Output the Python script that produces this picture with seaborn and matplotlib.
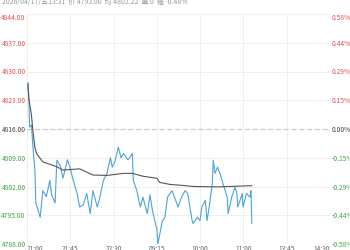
import matplotlib
matplotlib.use("Agg")
import matplotlib.pyplot as plt
import seaborn as sns
import pandas as pd
import numpy as np

# ---- data ----
prev_close = 4816.0
price_ticks = [4788, 4795, 4802, 4809, 4816, 4823, 4830, 4837, 4844]
pct_labels = ["-0.58%", "-0.44%", "-0.29%", "-0.15%", "0.00%", "0.15%", "0.29%", "0.44%", "0.58%"]
time_labels = ["21:00", "21:45", "22:30", "09:15", "10:00", "11:00", "13:45", "14:30"]
total_minutes = 345

price_min = [1, 2, 3, 5, 7, 9, 10, 13, 15, 18, 22, 26, 28, 32, 34, 38, 41, 46, 49, 52,
             57, 60, 64, 68, 72, 75, 80, 83, 87, 91, 95, 97, 100, 104, 107, 110, 115, 120,
             121, 125, 129, 132, 137, 140, 143, 148, 149, 154, 157, 160, 165, 168, 172,
             176, 180, 183, 188, 189, 194, 197, 199, 203, 205, 208, 211, 212, 214, 217,
             220, 223, 228, 229, 233, 237, 239, 240, 245, 246, 250, 254, 255, 256]
price_val = [4827.3, 4824.0, 4816.5, 4817.0, 4811.0, 4806.0, 4798.0, 4796.0, 4794.5, 4801.0,
             4799.5, 4803.5, 4800.0, 4798.0, 4808.4, 4807.0, 4804.0, 4808.5, 4806.7, 4804.0,
             4800.3, 4797.0, 4797.5, 4800.3, 4795.4, 4801.0, 4797.0, 4799.4, 4803.5, 4805.2,
             4809.0, 4806.7, 4808.0, 4811.6, 4809.0, 4810.0, 4808.5, 4810.0, 4803.5, 4801.0,
             4797.0, 4799.4, 4795.4, 4800.0, 4796.0, 4791.3, 4788.0, 4793.5, 4794.5, 4799.4,
             4801.0, 4799.4, 4797.0, 4799.4, 4801.0, 4800.3, 4793.7, 4793.0, 4794.5, 4793.7,
             4797.0, 4798.6, 4793.7, 4797.8, 4802.8, 4808.4, 4805.2, 4806.7, 4805.0, 4802.8,
             4799.4, 4795.4, 4799.4, 4801.8, 4800.3, 4797.0, 4800.3, 4797.0, 4800.3, 4799.4,
             4801.0, 4793.0]

avg_min = [1, 2, 5, 7, 9, 11, 18, 34, 41, 60, 68, 75, 91, 110, 120, 132, 148, 151, 163,
           175, 190, 217, 256]
avg_val = [4827.0, 4823.5, 4819.5, 4815.0, 4811.5, 4810.0, 4808.0, 4806.8, 4806.0, 4806.3,
           4805.5, 4804.8, 4804.7, 4805.2, 4805.2, 4804.5, 4804.0, 4803.0, 4802.5, 4802.3,
           4802.0, 4801.9, 4802.2]

header = "2026/04/17/五13:31  价 4793.00  均 4802.22  量 0  幅 -0.48%"

# ---- plot ----
sns.set_style("white")
plt.rcParams['font.family'] = ['Noto Sans CJK SC', 'DejaVu Sans']

RED = "#e25050"
GREEN = "#3da53d"
GRAY = "#444444"

fig = plt.figure(figsize=(3.5, 2.5), dpi=100)
ax = fig.add_axes([27 / 350, 1 - 244 / 250, 303 / 350, (244 - 14) / 250])

df_p = pd.DataFrame({"m": price_min, "p": price_val})
df_a = pd.DataFrame({"m": avg_min, "p": avg_val})

ax.axhline(prev_close, color="#c4c4c4", lw=0.8, ls=(0, (4, 3)), zorder=1)
sns.lineplot(data=df_p, x="m", y="p", ax=ax, color="#4da3d4", lw=0.8, zorder=3)
sns.lineplot(data=df_a, x="m", y="p", ax=ax, color="#555555", lw=0.8, zorder=4)

ax.set_xlim(0, total_minutes)
ax.set_ylim(price_ticks[0], price_ticks[-1])
xt = np.linspace(0, total_minutes, len(time_labels))
ax.set_xticks(xt)
ax.set_xticklabels(time_labels)
ax.set_yticks(price_ticks)
ax.set_yticklabels([f"{v:.2f}" for v in price_ticks])
ax.grid(True, color="#ececec", lw=0.6)
for s in ax.spines.values():
    s.set_visible(False)
ax.set_xlabel("")
ax.set_ylabel("")
ax.tick_params(axis="both", length=0, labelsize=4.8, pad=1)
ax.tick_params(axis="x", colors="#666666", pad=1)
xl = ax.get_xticklabels()
xl[0].set_ha("left")
xl[-1].set_ha("right")

def col(v):
    if v > prev_close:
        return RED
    if v < prev_close:
        return GREEN
    return GRAY

for lab, v in zip(ax.get_yticklabels(), price_ticks):
    lab.set_color(col(v))
ylabs = ax.get_yticklabels()
ylabs[-1].set_va("top")

ax2 = ax.twinx()
ax2.set_ylim(ax.get_ylim())
ax2.set_yticks(price_ticks)
ax2.set_yticklabels(pct_labels)
for s in ax2.spines.values():
    s.set_visible(False)
ax2.tick_params(axis="y", length=0, labelsize=4.8, pad=1)
for lab, v in zip(ax2.get_yticklabels(), price_ticks):
    lab.set_color(col(v))
ax2.get_yticklabels()[-1].set_va("top")
ax2.grid(False)

fig.text(2 / 350, 1 - 1.5 / 250, header, fontsize=5.0, color="#999999", ha="left", va="center")

fig.savefig("out.png", dpi=100)
